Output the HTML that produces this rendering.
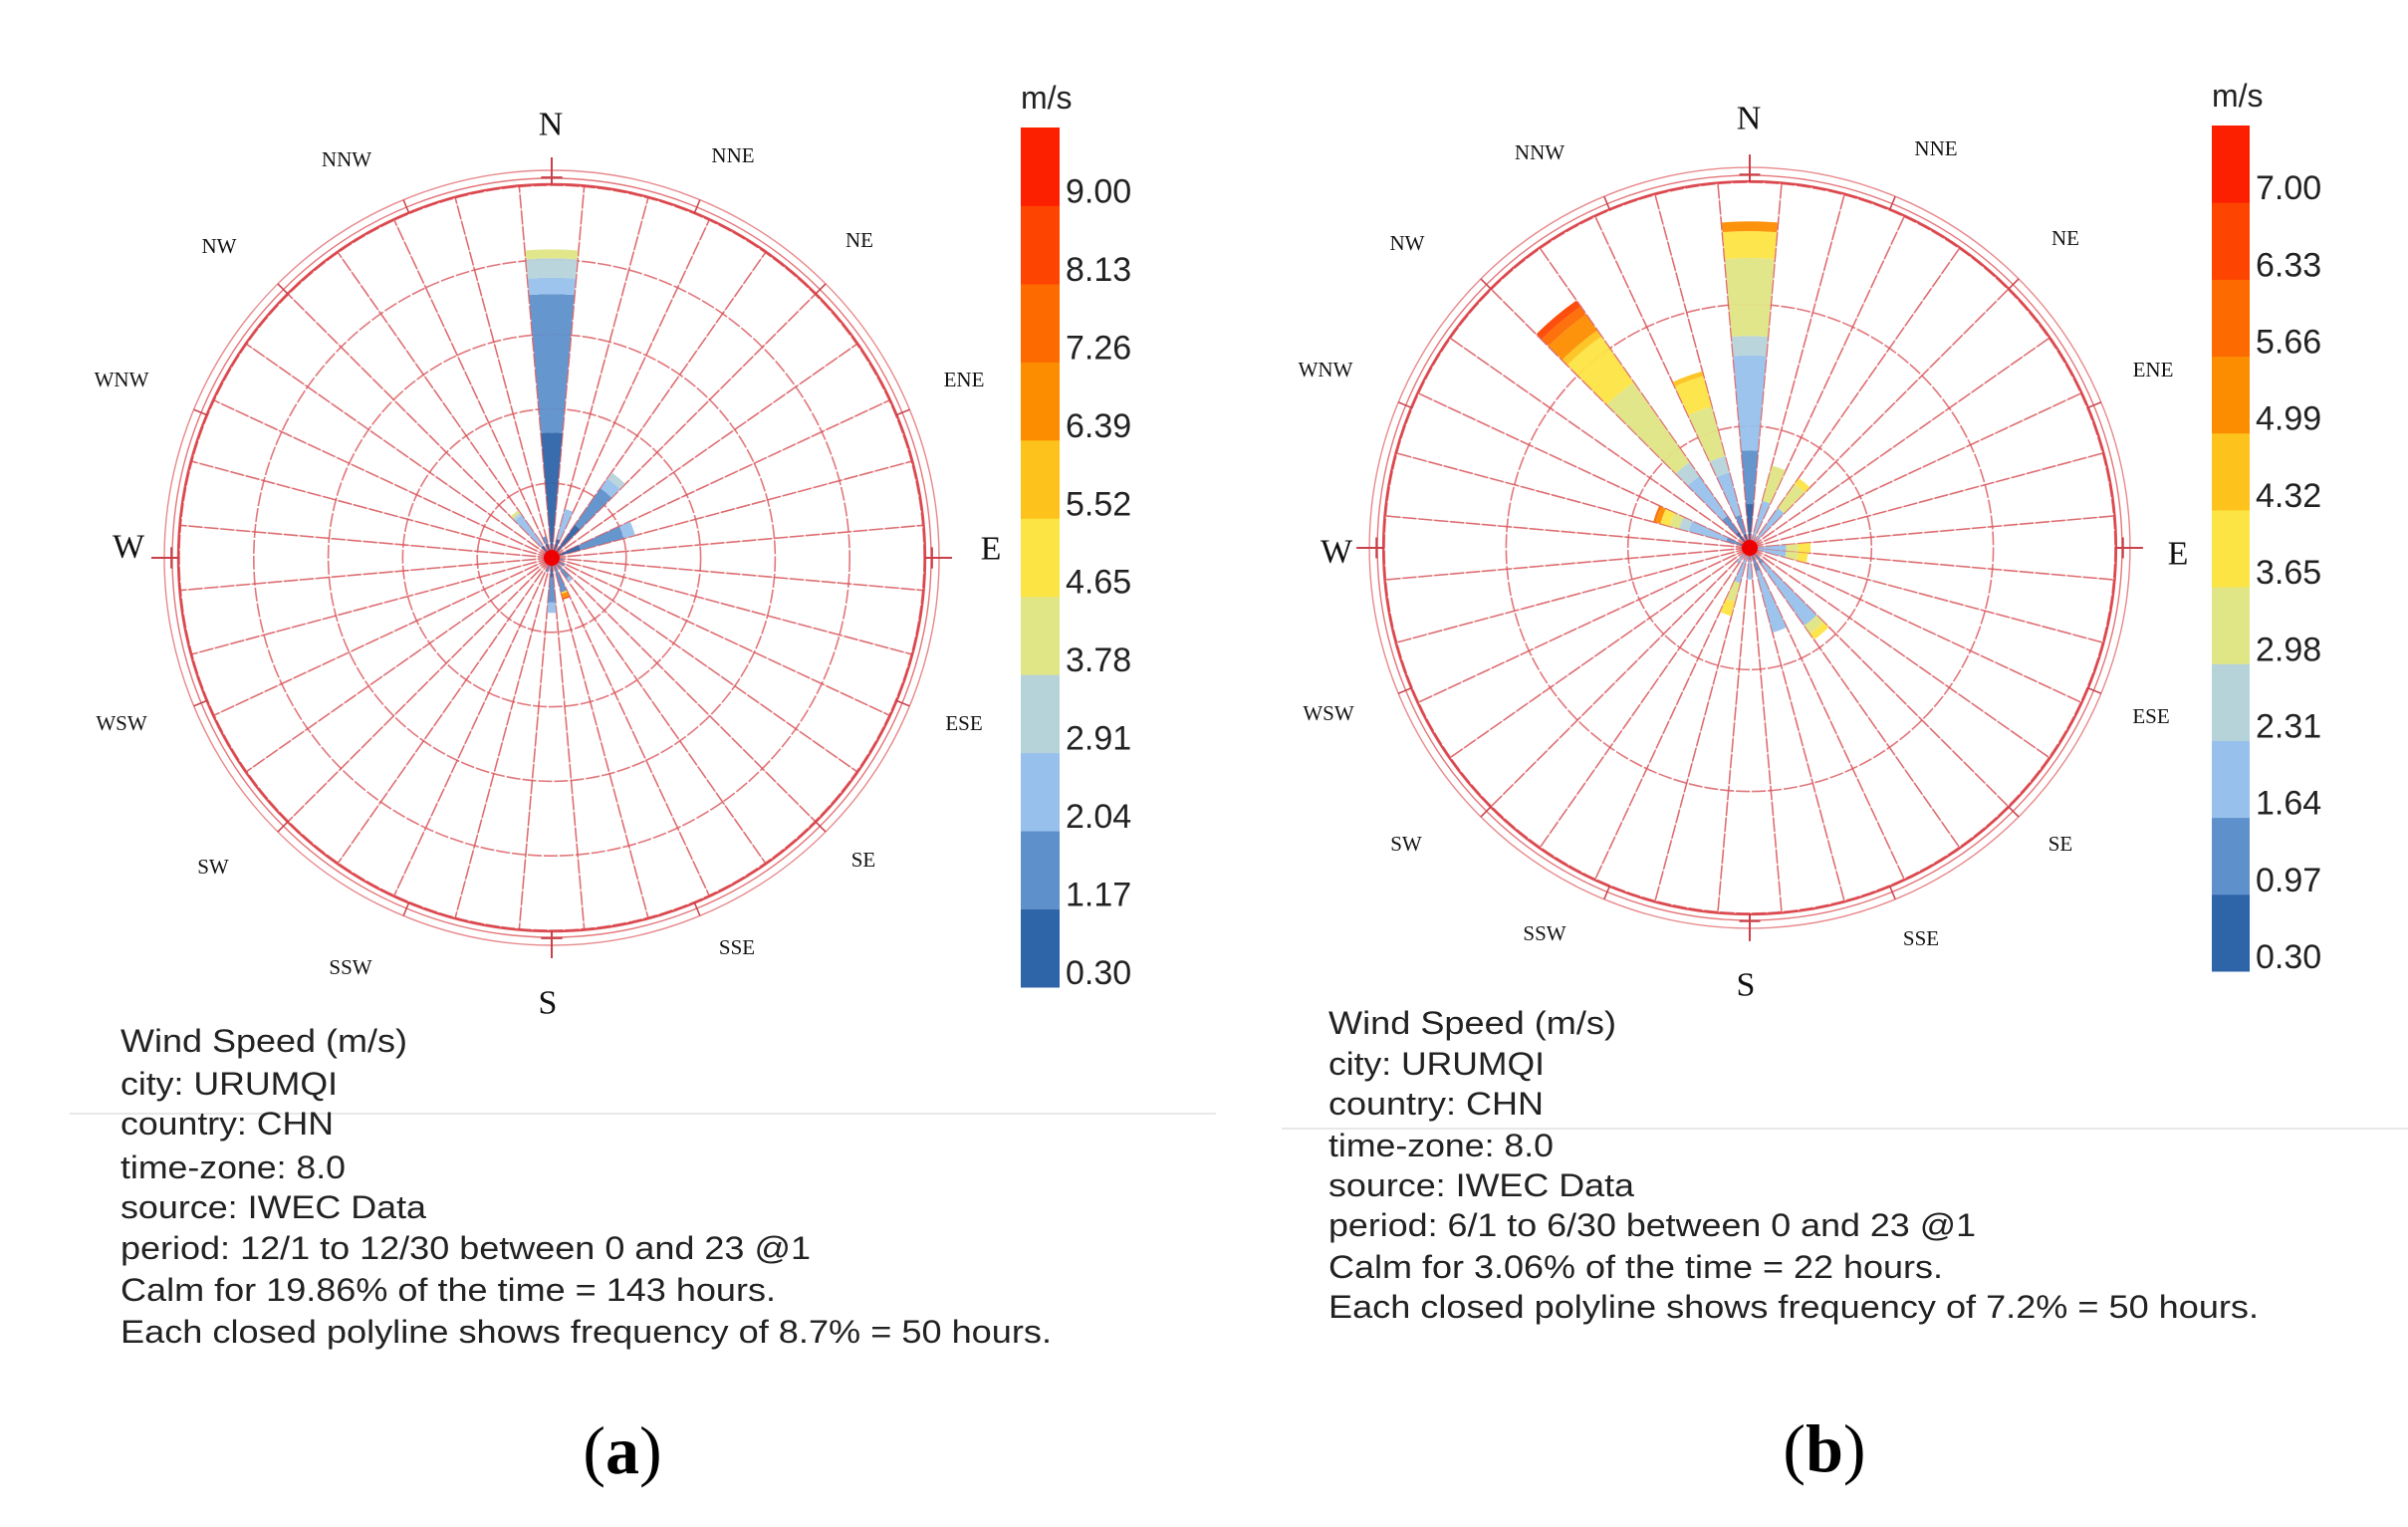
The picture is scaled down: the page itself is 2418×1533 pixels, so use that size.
<!DOCTYPE html>
<html><head><meta charset="utf-8"><style>
html,body{margin:0;padding:0;background:#fff;}
svg{display:block;}
</style></head><body>
<svg id="fig" width="2418" height="1533" viewBox="0 0 2418 1533" xmlns="http://www.w3.org/2000/svg">
<rect width="2418" height="1533" fill="#fff"/>
<g id="chartA"></g>
<g id="chartB"></g>
<g font-family="Liberation Sans, Arial, sans-serif" font-size="32" fill="#222" dominant-baseline="central">
<line x1="70" y1="1118" x2="1221" y2="1118" stroke="#e8e8e8" stroke-width="2"/>
<text x="121" y="1045" textLength="288" lengthAdjust="spacingAndGlyphs">Wind Speed (m/s)</text>
<text x="121" y="1088" textLength="218" lengthAdjust="spacingAndGlyphs">city: URUMQI</text>
<text x="121" y="1128" textLength="214" lengthAdjust="spacingAndGlyphs">country: CHN</text>
<text x="121" y="1172" textLength="226" lengthAdjust="spacingAndGlyphs">time-zone: 8.0</text>
<text x="121" y="1212" textLength="307" lengthAdjust="spacingAndGlyphs">source: IWEC Data</text>
<text x="121" y="1253" textLength="693" lengthAdjust="spacingAndGlyphs">period: 12/1 to 12/30 between 0 and 23 @1</text>
<text x="121" y="1295" textLength="658" lengthAdjust="spacingAndGlyphs">Calm for 19.86% of the time = 143 hours.</text>
<text x="121" y="1337" textLength="935" lengthAdjust="spacingAndGlyphs">Each closed polyline shows frequency of 8.7% = 50 hours.</text>
</g>
<g font-family="Liberation Sans, Arial, sans-serif" font-size="32" fill="#222" dominant-baseline="central">
<line x1="1287" y1="1133" x2="2418" y2="1133" stroke="#e8e8e8" stroke-width="2"/>
<text x="1334" y="1027" textLength="289" lengthAdjust="spacingAndGlyphs">Wind Speed (m/s)</text>
<text x="1334" y="1068" textLength="217" lengthAdjust="spacingAndGlyphs">city: URUMQI</text>
<text x="1334" y="1108" textLength="216" lengthAdjust="spacingAndGlyphs">country: CHN</text>
<text x="1334" y="1150" textLength="226" lengthAdjust="spacingAndGlyphs">time-zone: 8.0</text>
<text x="1334" y="1190" textLength="307" lengthAdjust="spacingAndGlyphs">source: IWEC Data</text>
<text x="1334" y="1230" textLength="650" lengthAdjust="spacingAndGlyphs">period: 6/1 to 6/30 between 0 and 23 @1</text>
<text x="1334" y="1272" textLength="617" lengthAdjust="spacingAndGlyphs">Calm for 3.06% of the time = 22 hours.</text>
<text x="1334" y="1312" textLength="934" lengthAdjust="spacingAndGlyphs">Each closed polyline shows frequency of 7.2% = 50 hours.</text>
</g>
<text x="625" y="1456" text-anchor="middle" dominant-baseline="central" font-family="Liberation Serif, serif" font-size="68">(<tspan font-weight="bold">a</tspan>)</text>
<text x="1832" y="1454" text-anchor="middle" dominant-baseline="central" font-family="Liberation Serif, serif" font-size="68">(<tspan font-weight="bold">b</tspan>)</text>
</svg>
<script>
// ---- shared colour bins (lowest speed -> highest) ----
const binColors = ['#2e64a8','#5e90cb','#97c1ec','#b6d3da','#e0e585','#fde445','#fdc31c','#fd8d00','#fd6a00','#fd4400','#fd2000'];
// ---- chart (a) data: direction (deg) and stacked hours per speed bin ----
const dirsA = [0, 20, 40, 70, 100, 120, 140, 160, 180, 200, 240, 300, 320, 340];
const hoursA = [
  [84, 93, 11, 13, 6],
  [13, 0, 21],
  [27, 30, 8, 5],
  [20, 30, 8],
  [5, 3],
  [6, 4],
  [0, 17, 3],
  [0, 24, 0, 0, 0, 1, 0, 3, 0, 1],
  [13, 17, 7],
  [5, 5],
  [4, 2],
  [4, 2],
  [10, 0, 25, 2, 2],
  [10, 5]
];
const ticksA = ['9.00','8.13','7.26','6.39','5.52','4.65','3.78','2.91','2.04','1.17','0.30'];
// ---- chart (b) data ----
const dirsB = [0, 20, 40, 90, 100, 140, 160, 180, 200, 220, 290, 320, 340];
const hoursB = [
  [18, 22, 39, 8, 32, 11, 0, 4],
  [0, 0, 20, 0, 15],
  [0, 0, 20, 0, 12, 3],
  [0, 0, 15, 0, 5, 5],
  [0, 0, 15, 0, 5, 4],
  [0, 8, 31, 0, 4, 3],
  [0, 10, 26],
  [0, 5, 8],
  [0, 0, 15, 0, 8, 6],
  [0, 3, 5],
  [4, 6, 16, 4, 4, 4, 0, 2, 1],
  [8, 8, 20, 7, 40, 23, 3, 8, 4, 3],
  [6, 8, 18, 7, 21, 13, 2]
];
const ticksB = ['7.00','6.33','5.66','4.99','4.32','3.65','2.98','2.31','1.64','0.97','0.30'];
const compass = ['N','NNE','NE','ENE','E','ESE','SE','SSE','S','SSW','SW','WSW','W','WNW','NW','NNW'];

const NS = 'http://www.w3.org/2000/svg';
function mk(parent, tag, attrs){
  const e = document.createElementNS(NS, tag);
  for (const k in attrs) e.setAttribute(k, attrs[k]);
  parent.appendChild(e);
  return e;
}
function drawRose(g, cfg, dirs, hours, ticks){
  const cx = cfg.cx, cy = cfg.cy;
  const rScale = h => h * cfg.pxPerHour;
  const pt = (r, deg) => { const a = deg*Math.PI/180; return [cx + r*Math.sin(a), cy - r*Math.cos(a)]; };
  const gridCol = '#d9555a';
  for (let i = 1; i <= cfg.rings; i++) {
    const c = mk(g, 'circle', {cx, cy, r: rScale(50*i), fill:'none', stroke:gridCol, 'stroke-width':1.6, 'stroke-dasharray':'14 2', opacity:0.8});
    
    
  }
  const rMax = rScale(50*cfg.rings);
  [[rMax+1, 2.4, 0.9], [rMax+7, 1.4, 0.7], [rMax+15, 1.4, 0.6]].forEach(o => {
    const c = mk(g, 'circle', {cx, cy, r:o[0], fill:'none', stroke:'#d83a40', 'stroke-width':o[1], opacity:o[2]});
    
    
  });
  for (let k = 0; k < 36; k++) {
    const d = 5 + 10*k;
    const p = pt(rMax, d);
    const l = mk(g, 'line', {x1:cx, y1:cy, x2:p[0], y2:p[1], stroke:gridCol, 'stroke-width':1.6, 'stroke-dasharray':'14 2', opacity:0.8});
    
    
  }
  for (let k = 0; k < 16; k++) {
    const d = 22.5*k;
    const main = k % 4 === 0;
    const a = pt(rMax, d), b = pt(rMax + (main ? 28 : 15), d);
    const l = mk(g, 'line', {x1:a[0], y1:a[1], x2:b[0], y2:b[1], stroke:'#c84048', 'stroke-width':main?2:1.5});
    
    
    if (main) {
      const m1 = pt(rMax+8, d - 1.6), m2 = pt(rMax+8, d + 1.6);
      const t = mk(g, 'line', {x1:m1[0], y1:m1[1], x2:m2[0], y2:m2[1], stroke:'#c84048', 'stroke-width':2});
      
      
    }
  }
  const hw = 4.9;
  dirs.forEach((d, i) => {
    let acc = 0;
    hours[i].forEach((h, b) => {
      if (h <= 0) return;
      const r0 = rScale(acc), r1 = rScale(acc + h);
      acc += h;
      const p1 = pt(r0, d - hw), p2 = pt(r1, d - hw), p3 = pt(r1, d + hw), p4 = pt(r0, d + hw);
      const path = `M${p1[0]},${p1[1]} L${p2[0]},${p2[1]} A${r1},${r1} 0 0 1 ${p3[0]},${p3[1]} L${p4[0]},${p4[1]} A${r0},${r0} 0 0 0 ${p1[0]},${p1[1]} Z`;
      const s = mk(g, 'path', {d:path, fill:binColors[b], opacity:0.95});
      
      
    });
  });
  for (let k = 0; k < 36; k++) {
    const p = pt(rMax, 5 + 10*k);
    const l = mk(g, 'line', {x1:cx, y1:cy, x2:p[0], y2:p[1], stroke:gridCol, 'stroke-width':1, opacity:0.35});
    
    
  }
  const dot = mk(g, 'circle', {cx, cy, r:8, fill:'#ee0000'});
  
  
  compass.forEach((name, k) => {
    const pos = cfg.labelPos[k];
    const main = k % 4 === 0;
    const t = mk(g, 'text', {x:pos[0], y:pos[1], 'text-anchor':'middle', 'dominant-baseline':'central',
      'font-family':'Liberation Serif, serif', 'font-size': main ? 34 : 21, fill:'#111'});
    t.textContent = name;
    
    
  });
  const cb = cfg.cbar;
  const bandH = (cb.y1 - cb.y0) / binColors.length;
  for (let b = 0; b < binColors.length; b++) {
    const y = cb.y1 - (b+1)*bandH;
    const r = mk(g, 'rect', {x:cb.x, y, width:cb.w, height:bandH+0.5, fill:binColors[b]});
    
    
  }
  ticks.forEach((lab, i) => {
    const t = mk(g, 'text', {x:cb.x + cb.w + 6, y: cb.y0 + (i+1)*bandH - 14, 'dominant-baseline':'central',
      'font-family':'Liberation Sans, Arial, sans-serif', 'font-size':34, fill:'#222'});
    t.textContent = lab;
    
    
  });
  const u = mk(g, 'text', {x:cb.x, y:cb.y0 - 30, 'dominant-baseline':'central',
    'font-family':'Liberation Sans, Arial, sans-serif', 'font-size':32, fill:'#222'});
  u.textContent = 'm/s';
  
  
}
drawRose(document.getElementById('chartA'), {
  cx:554, cy:560, pxPerHour:1.496, rings:5,
  labelPos:[[553,125],[736,156],[863,241],[968,381],[995,551],[968,726],[867,863],[740,951],[550,1007],[352,971],[214,870],[122,726],[129,549],[122,381],[220,247],[348,160]],
  cbar:{x:1025, y0:128, y1:991, w:39}
}, dirsA, hoursA, ticksA);
drawRose(document.getElementById('chartB'), {
  cx:1757, cy:550, pxPerHour:2.446, rings:3,
  labelPos:[[1756,119],[1944,149],[2074,239],[2162,371],[2187,556],[2160,719],[2069,847],[1929,942],[1753,989],[1551,937],[1412,847],[1334,716],[1342,554],[1331,371],[1413,244],[1546,153]],
  cbar:{x:2221, y0:126, y1:975, w:38}
}, dirsB, hoursB, ticksB);
</script>
</body></html>
